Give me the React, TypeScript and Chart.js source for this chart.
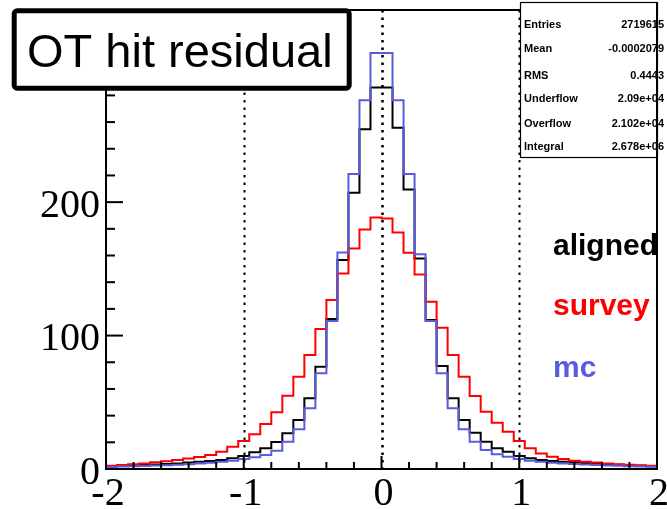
import React, { useEffect, useRef } from 'react';
import { Chart, registerables } from 'chart.js';

Chart.register(...registerables);

// Histogram binning: 50 bins from -2 to 2
const binLow = -2;
const binWidth = 0.08;

const aligned = [
  2, 2.3, 2.7, 3, 3.4, 3.8, 4.2, 4.8, 5.5, 6,
  6.7, 8, 9.7, 12.5, 15.5, 20.2, 26.7, 36.7, 53, 76.6,
  112.4, 156.6, 207, 254.7, 285.9, 285.9, 255.7, 209.5, 157.8, 111.6,
  77.2, 53, 36.7, 27.2, 20.5, 15.5, 13, 9.7, 8, 6.7,
  6, 5.5, 5, 4.5, 4, 3.6, 3.2, 2.8, 2.4, 2.1,
];

const survey = [
  2.5, 3, 3.5, 4.2, 5, 5.8, 6.8, 7.8, 9, 10.5,
  13, 16.7, 21, 26, 33.7, 42.5, 54.9, 69.2, 85.4, 104.9,
  126.6, 146.6, 165.3, 179.5, 188.5, 187.8, 177.3, 162, 145.8, 125.3,
  105.8, 85.4, 69.2, 54.7, 42.9, 34.7, 28, 21, 15.5, 11.7,
  9.2, 7.5, 6.2, 5.5, 4.8, 4.2, 3.6, 3.2, 2.8, 2.4,
];

const mc = [
  1.5, 1.8, 2, 2.3, 2.6, 2.9, 3.2, 3.5, 4.2, 4.7,
  5.5, 6.2, 7.5, 8.8, 10.5, 13.7, 20.5, 29.7, 45.5, 71.7,
  110.9, 162.3, 221, 276.4, 311.8, 311.8, 276.4, 221, 161, 111,
  71.7, 45.5, 29.7, 20.5, 14.2, 11, 9.2, 7.5, 6.2, 5.5,
  4.7, 4.2, 3.8, 3.3, 3, 2.7, 2.4, 2.1, 1.8, 1.6,
];

const xMin = -2;
const xMax = 2;
const yMin = 0;
const yMax = 344;
const xTickValues = [-2, -1, 0, 1, 2];
const xTickLabels = ['-2', '-1', '0', '1', '2'];
const yTickValues = [0, 100, 200, 300];
const yTickLabels = ['0', '100', '200', '300'];
const refLines = [-1, 0, 1];

const titleText = 'OT hit residual';
const seriesLabels = ['mc', 'survey', 'aligned'];
const legendLabels = ['aligned', 'survey', 'mc'];
const statsLabels = ['Entries', 'Mean', 'RMS', 'Underflow', 'Overflow', 'Integral'];
const statsValues = ['2719615', '-0.0002079', '0.4443', '2.09e+04', '2.102e+04', '2.678e+06'];

const BLUE = 'rgb(90,90,222)';
const RED = 'rgb(255,0,0)';
const BLACK = 'rgb(0,0,0)';
const SERIF = "'Liberation Serif', 'Times New Roman', serif";
const SANS = "'Liberation Sans', Arial, sans-serif";

function toSteps(values: number[]) {
  const pts = values.map((v, i) => ({ x: binLow + i * binWidth, y: v }));
  pts.push({ x: binLow + values.length * binWidth, y: values[values.length - 1] });
  return pts;
}

const decorPlugin = {
  id: 'rootDecor',
  beforeDatasetsDraw(chart: any) {
    const { ctx, chartArea, scales } = chart;
    ctx.save();
    ctx.strokeStyle = '#000';
    refLines.forEach((v) => {
      const x = Math.round(scales.x.getPixelForValue(v)) + 0.5;
      ctx.lineWidth = v === 0 ? 2.6 : 2;
      ctx.setLineDash([2.5, 5]);
      ctx.beginPath();
      ctx.moveTo(x, chartArea.top);
      ctx.lineTo(x, chartArea.bottom);
      ctx.stroke();
    });
    ctx.restore();
  },
  afterDatasetsDraw(chart: any) {
    const { ctx, chartArea, scales } = chart;
    const { left, right, top, bottom } = chartArea;
    ctx.save();
    // tick labels
    ctx.fillStyle = '#000';
    ctx.font = `40px ${SERIF}`;
    ctx.textBaseline = 'middle';
    ctx.textAlign = 'right';
    yTickValues.forEach((v, i) => {
      ctx.fillText(yTickLabels[i], left - 6, scales.y.getPixelForValue(v) + 4);
    });
    ctx.textAlign = 'center';
    xTickValues.forEach((v, i) => {
      ctx.fillText(xTickLabels[i], scales.x.getPixelForValue(v) + 2, bottom + 25);
    });

    // frame
    ctx.strokeStyle = '#000';
    ctx.lineWidth = 2;
    ctx.strokeRect(left, top, right - left, bottom - top);
    // y ticks (inward)
    for (let v = yMin; v <= yMax; v += 20) {
      const y = scales.y.getPixelForValue(v);
      const len = v % 100 === 0 ? 17 : 9;
      ctx.beginPath();
      ctx.moveTo(left, y);
      ctx.lineTo(left + len, y);
      ctx.stroke();
    }
    // x ticks (inward)
    for (let i = 0; i <= 20; i++) {
      const v = xMin + i * 0.2;
      const x = scales.x.getPixelForValue(v);
      const len = i % 5 === 0 ? 13 : 7;
      ctx.beginPath();
      ctx.moveTo(x, bottom);
      ctx.lineTo(x, bottom - len);
      ctx.stroke();
    }

    // legend texts
    ctx.font = `bold 30px ${SANS}`;
    ctx.textAlign = 'left';
    ctx.textBaseline = 'alphabetic';
    const legendColors = [BLACK, RED, BLUE];
    const legendY = [255, 315, 377];
    legendLabels.forEach((t, i) => {
      ctx.fillStyle = legendColors[i];
      ctx.fillText(t, 553, legendY[i]);
    });
    ctx.strokeStyle = '#000';
    ctx.lineWidth = 2;
    ctx.beginPath();
    ctx.moveTo(right, top);
    ctx.lineTo(right, bottom);
    ctx.stroke();

    // stats box
    ctx.fillStyle = '#fff';
    ctx.fillRect(520, 2, right - 520, 155);
    ctx.lineWidth = 1.2;
    ctx.strokeRect(520.5, 2.5, right - 520, 155);
    ctx.font = `bold 11px ${SANS}`;
    ctx.fillStyle = '#000';
    const rowY = [28, 51.5, 78.5, 102, 126.5, 149.5];
    statsLabels.forEach((t, i) => {
      ctx.textAlign = 'left';
      ctx.fillText(t, 524, rowY[i]);
      ctx.textAlign = 'right';
      ctx.fillText(statsValues[i], 664, rowY[i]);
    });
    ctx.lineWidth = 2;
    ctx.beginPath();
    ctx.moveTo(right, 2);
    ctx.lineTo(right, 158);
    ctx.stroke();

    // title box
    ctx.lineWidth = 5;
    ctx.lineJoin = 'round';
    ctx.fillStyle = '#fff';
    ctx.beginPath();
    if ((ctx as any).roundRect) ctx.roundRect(14.2, 10.8, 335, 77.4, 3);
    else ctx.rect(14.2, 10.8, 335, 77.4);
    ctx.fill();
    ctx.stroke();
    ctx.fillStyle = '#000';
    ctx.textAlign = 'left';
    ctx.font = `47px ${SANS}`;
    ctx.fillText(titleText, 27, 67);
    ctx.restore();
  },
};

export default function App() {
  const ref = useRef<HTMLCanvasElement | null>(null);
  useEffect(() => {
    if (!ref.current) return;
    const chart = new Chart(ref.current, {
      type: 'line',
      data: {
        datasets: [
          { label: seriesLabels[0], data: toSteps(mc), borderColor: BLUE, borderWidth: 2, stepped: 'before', pointRadius: 0, fill: false },
          { label: seriesLabels[1], data: toSteps(survey), borderColor: RED, borderWidth: 2, stepped: 'before', pointRadius: 0, fill: false },
          { label: seriesLabels[2], data: toSteps(aligned), borderColor: BLACK, borderWidth: 2, stepped: 'before', pointRadius: 0, fill: false },
        ],
      },
      options: {
        animation: false,
        responsive: true,
        maintainAspectRatio: false,
        layout: { autoPadding: false, padding: { top: 10, right: 10, left: 106, bottom: 40 } },
        plugins: { legend: { display: false }, tooltip: { enabled: false }, title: { display: false } },
        scales: {
          x: { type: 'linear', min: xMin, max: xMax, display: false },
          y: { type: 'linear', min: yMin, max: yMax, display: false },
        },
      },
      plugins: [decorPlugin],
    } as any);
    return () => chart.destroy();
  }, []);
  return (
    <div style={{ position: 'fixed', left: 0, top: 0, width: 667, height: 509, background: '#fff' }}>
      <canvas ref={ref} />
    </div>
  );
}
